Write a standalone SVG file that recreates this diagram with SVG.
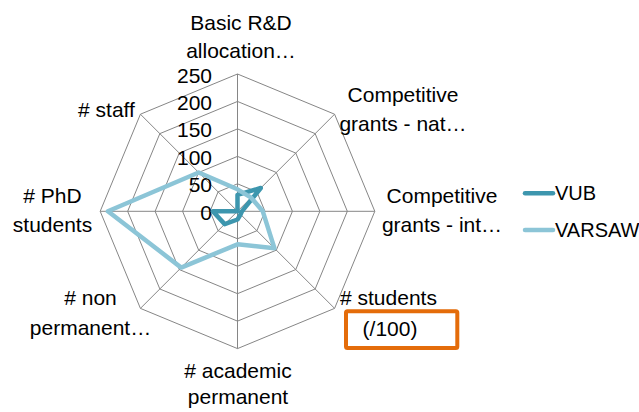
<svg xmlns="http://www.w3.org/2000/svg" width="639" height="412" viewBox="0 0 639 412">
<style>
text{font-family:"Liberation Sans",Arial,sans-serif;fill:#000;}
.lbl{font-size:21px;text-anchor:middle;}
.tick{font-size:21px;text-anchor:end;}
.leg{font-size:20px;}
.grid{fill:none;stroke:#868686;stroke-width:1;}
.vub{fill:none;stroke:#3D96AE;stroke-width:4.5;stroke-linejoin:round;stroke-linecap:round;}
.var{fill:none;stroke:#8CC5D7;stroke-width:4.5;stroke-linejoin:round;stroke-linecap:round;}
</style>
<rect width="639" height="412" fill="#fff"/>
<g id="grid">
<polygon class="grid" points="237.5,183.84 256.92,191.88 264.96,211.3 256.92,230.72 237.5,238.76 218.08,230.72 210.04,211.3 218.08,191.88"/>
<polygon class="grid" points="237.5,156.38 276.33,172.47 292.42,211.3 276.33,250.13 237.5,266.22 198.67,250.13 182.58,211.3 198.67,172.47"/>
<polygon class="grid" points="237.5,128.92 295.75,153.05 319.88,211.3 295.75,269.55 237.5,293.68 179.25,269.55 155.12,211.3 179.25,153.05"/>
<polygon class="grid" points="237.5,101.46 315.17,133.63 347.34,211.3 315.17,288.97 237.5,321.14 159.83,288.97 127.66,211.3 159.83,133.63"/>
<polygon class="grid" points="237.5,74 334.59,114.21 374.8,211.3 334.59,308.39 237.5,348.6 140.41,308.39 100.2,211.3 140.41,114.21"/>
<path class="grid" d="M237.5,211.3V74M237.5,211.3L334.59,114.21M237.5,211.3H374.8M237.5,211.3L334.59,308.39M237.5,211.3V348.6M237.5,211.3L140.41,308.39M237.5,211.3H100.2M237.5,211.3L140.41,114.21"/>
</g>
<g id="ticks">
<text class="tick" x="212" y="219.8">0</text>
<text class="tick" x="212" y="192.3">50</text>
<text class="tick" x="212" y="164.9">100</text>
<text class="tick" x="212" y="137.4">150</text>
<text class="tick" x="212" y="110">200</text>
<text class="tick" x="212" y="82.5">250</text>
</g>
<g id="series">
<polygon id="vub-series" class="vub" points="237.5,194.8 260.8,188 241.9,211.3 240.6,214.4 237.5,219.5 224.7,224.1 212.8,211.3 237.5,211.3"/>
<polygon id="varsaw-series" class="var" points="237.5,189.3 251.1,197.7 262.8,211.3 274.4,248.2 237.5,244.3 181.2,267.6 107.9,211.3 198.7,172.5"/>
</g>
<g id="label-basic">
<text class="lbl" x="241" y="30">Basic R&amp;D</text>
<text class="lbl" x="241" y="58">allocation…</text>
</g>
<g id="label-nat">
<text class="lbl" x="403" y="102">Competitive</text>
<text class="lbl" x="403" y="131">grants - nat…</text>
</g>
<g id="label-int">
<text class="lbl" x="442" y="203">Competitive</text>
<text class="lbl" x="442" y="232">grants - int…</text>
</g>
<g id="label-students">
<text x="340" y="305" style="font-size:21px">#  students</text>
<text class="lbl" x="390" y="336">(/100)</text>
</g>
<rect id="highlight" x="346" y="311.3" width="111.3" height="36.7" rx="1.5" fill="none" stroke="#E46C0A" stroke-width="4"/>
<g id="label-academic">
<text class="lbl" x="238" y="378">#  academic</text>
<text class="lbl" x="238" y="404">permanent</text>
</g>
<g id="label-nonperm">
<text class="lbl" x="90.5" y="305">#  non</text>
<text class="lbl" x="90.5" y="335">permanent…</text>
</g>
<g id="label-phd">
<text class="lbl" x="52.5" y="203">#  PhD</text>
<text class="lbl" x="52.5" y="232">students</text>
</g>
<g id="label-staff">
<text class="lbl" x="106.5" y="117">#  staff</text>
</g>
<g id="legend">
<line x1="525" y1="193.3" x2="553" y2="193.3" class="vub"/>
<text class="leg" x="555" y="200">VUB</text>
<line x1="525" y1="230" x2="553" y2="230" class="var"/>
<text class="leg" x="555" y="237">VARSAW</text>
</g>
</svg>
